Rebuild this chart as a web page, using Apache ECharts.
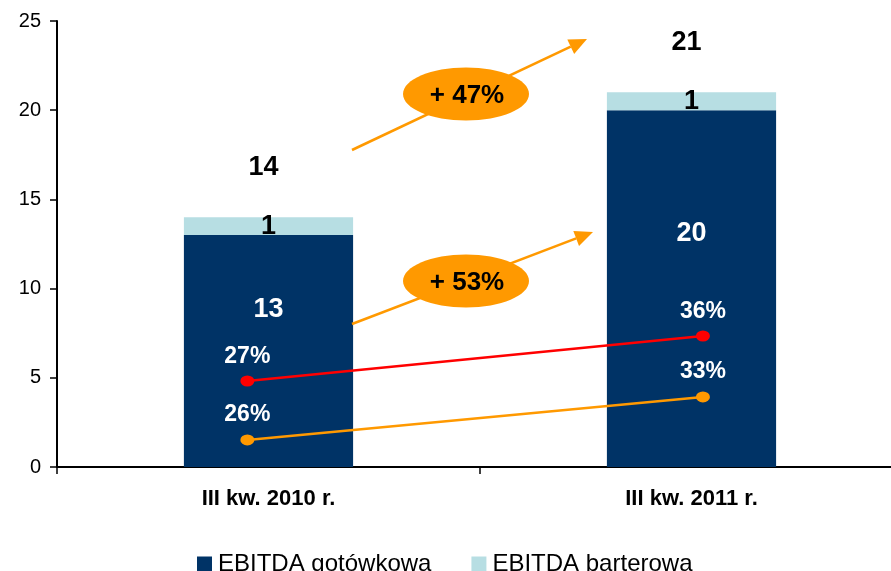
<!DOCTYPE html>
<html>
<head>
<meta charset="utf-8">
<style>
  html, body { margin: 0; padding: 0; background: #fff; }
  #chart { width: 891px; height: 571px; }
</style>
<script src="https://cdn.jsdelivr.net/npm/echarts@6/dist/echarts.min.js"></script>
</head>
<body>
<div id="chart"></div>
<script>
// Quarterly EBITDA, split into cash and barter parts, with two margin lines
const categories = ['III kw. 2010 r.', 'III kw. 2011 r.'];
const cashEbitda = [13, 20];
const barterEbitda = [1, 1];
const marginRed = [27, 36];      // %
const marginOrange = [26, 33];   // %
const growthLabels = ['+ 47%', '+ 53%'];
const yTicks = { min: 0, max: 25, step: 5 };

const FONT = '"Liberation Sans", Arial, sans-serif';
const NAVY = '#003366';
const LIGHT = '#B7DEE3';
const RED = '#FF0000';
const ORANGE = '#FF9900';

const totals = cashEbitda.map((v, i) => v + barterEbitda[i]);

// horizontal placement of the margin markers along a 0..2 scale spanning both categories
const markerX = [0.45, 1.527];
// vertical label nudges for the cash values inside the bars
const cashLabelShift = [-41, -55];

const chart = echarts.init(document.getElementById('chart'));

const option = {
  backgroundColor: '#fff',
  animation: false,
  textStyle: { fontFamily: FONT },
  grid: { left: 57, width: 846, top: 21, bottom: 104, containLabel: false, outerBoundsMode: 'none' },
  legend: {
    data: ['EBITDA gotówkowa', 'EBITDA barterowa'],
    left: 192,
    top: 547,
    icon: 'rect',
    itemWidth: 15,
    itemHeight: 15,
    itemGap: 40,
    textStyle: { fontFamily: FONT, fontSize: 24, color: '#000', padding: [0, 0, 0, 1] }
  },
  xAxis: [
    {
      type: 'category',
      data: categories,
      axisLine: { lineStyle: { color: '#000', width: 2 } },
      axisTick: { show: true, length: 7, lineStyle: { color: '#000', width: 1.5 } },
      axisLabel: { fontFamily: FONT, fontSize: 22, fontWeight: 'bold', color: '#000', margin: 21 }
    },
    { type: 'value', min: 0, max: 2, show: false }
  ],
  yAxis: [
    {
      type: 'value',
      min: yTicks.min, max: yTicks.max, interval: yTicks.step,
      axisLine: { show: true, lineStyle: { color: '#000', width: 2 } },
      axisTick: { show: true, length: 7, lineStyle: { color: '#000', width: 1.5 } },
      axisLabel: { fontFamily: FONT, fontSize: 20, color: '#000', margin: 16 },
      splitLine: { show: false }
    },
    { type: 'value', min: 9.8, max: 99, show: false },
    { type: 'value', min: 21.6, max: 94.2, show: false }
  ],
  series: [
    {
      name: 'EBITDA gotówkowa',
      type: 'bar',
      stack: 'ebitda',
      barWidth: '40%',
      itemStyle: { color: NAVY },
      data: cashEbitda.map((v, i) => ({
        value: v,
        label: { offset: [0, cashLabelShift[i]] }
      })),
      label: {
        show: true, position: 'inside',
        fontFamily: FONT, fontSize: 27, fontWeight: 'bold', color: '#fff'
      }
    },
    {
      name: 'EBITDA barterowa',
      type: 'bar',
      stack: 'ebitda',
      barWidth: '40%',
      itemStyle: { color: LIGHT },
      data: barterEbitda,
      label: {
        show: true, position: 'inside',
        fontFamily: FONT, fontSize: 27, fontWeight: 'bold', color: '#000'
      }
    },
    {
      name: 'Razem',
      type: 'scatter',
      data: totals,
      symbol: 'circle',
      symbolSize: 1,
      itemStyle: { color: 'rgba(0,0,0,0)', opacity: 1 },
      silent: true,
      label: {
        show: true, position: 'top', distance: 36,
        fontFamily: FONT, fontSize: 27, fontWeight: 'bold', color: '#000',
        offset: [-5, 0]
      },
      z: 5
    },
    {
      name: 'Marża A',
      type: 'line',
      xAxisIndex: 1,
      yAxisIndex: 1,
      data: marginRed.map((v, i) => [markerX[i], v]),
      symbol: 'circle',
      symbolSize: [14, 11],
      itemStyle: { color: RED },
      lineStyle: { color: RED, width: 2.5 },
      label: {
        show: true, position: 'top', distance: 7,
        formatter: p => p.value[1] + '%',
        fontFamily: FONT, fontSize: 23, fontWeight: 'bold', color: '#fff'
      },
      z: 6
    },
    {
      name: 'Marża B',
      type: 'line',
      xAxisIndex: 1,
      yAxisIndex: 2,
      data: marginOrange.map((v, i) => [markerX[i], v]),
      symbol: 'circle',
      symbolSize: [14, 11],
      itemStyle: { color: ORANGE },
      lineStyle: { color: ORANGE, width: 2.5 },
      label: {
        show: true, position: 'top', distance: 8,
        formatter: p => p.value[1] + '%',
        fontFamily: FONT, fontSize: 23, fontWeight: 'bold', color: '#fff'
      },
      z: 6
    }
  ]
};

chart.setOption(option);

// Growth arrows with oval badges drawn on top of the plot
function arrow(x1, y1, x2, y2) {
  const ang = Math.atan2(y2 - y1, x2 - x1);
  const headLen = 18, headHalf = 8;
  const bx = x2 - headLen * Math.cos(ang), by = y2 - headLen * Math.sin(ang);
  const nx = -Math.sin(ang), ny = Math.cos(ang);
  return [
    { type: 'line', shape: { x1, y1, x2: bx, y2: by }, style: { stroke: ORANGE, lineWidth: 2.5 }, z: 10 },
    { type: 'polygon', shape: { points: [[x2, y2], [bx + nx * headHalf, by + ny * headHalf], [bx - nx * headHalf, by - ny * headHalf]] },
      style: { fill: ORANGE }, z: 10 }
  ];
}
function badge(cx, cy, text) {
  return [
    { type: 'ellipse', shape: { cx, cy, rx: 63, ry: 26.5 }, style: { fill: ORANGE }, z: 11 },
    { type: 'text', x: cx + 1, y: cy + 2, z: 12,
      style: { text, fill: '#000', font: 'bold 26px ' + FONT, align: 'center', verticalAlign: 'middle' } }
  ];
}

chart.setOption({
  graphic: [
    ...arrow(352, 150, 587, 39),
    ...badge(466, 94, growthLabels[0]),
    ...arrow(352, 324, 593, 232),
    ...badge(466, 281, growthLabels[1])
  ]
});
</script>
</body>
</html>
